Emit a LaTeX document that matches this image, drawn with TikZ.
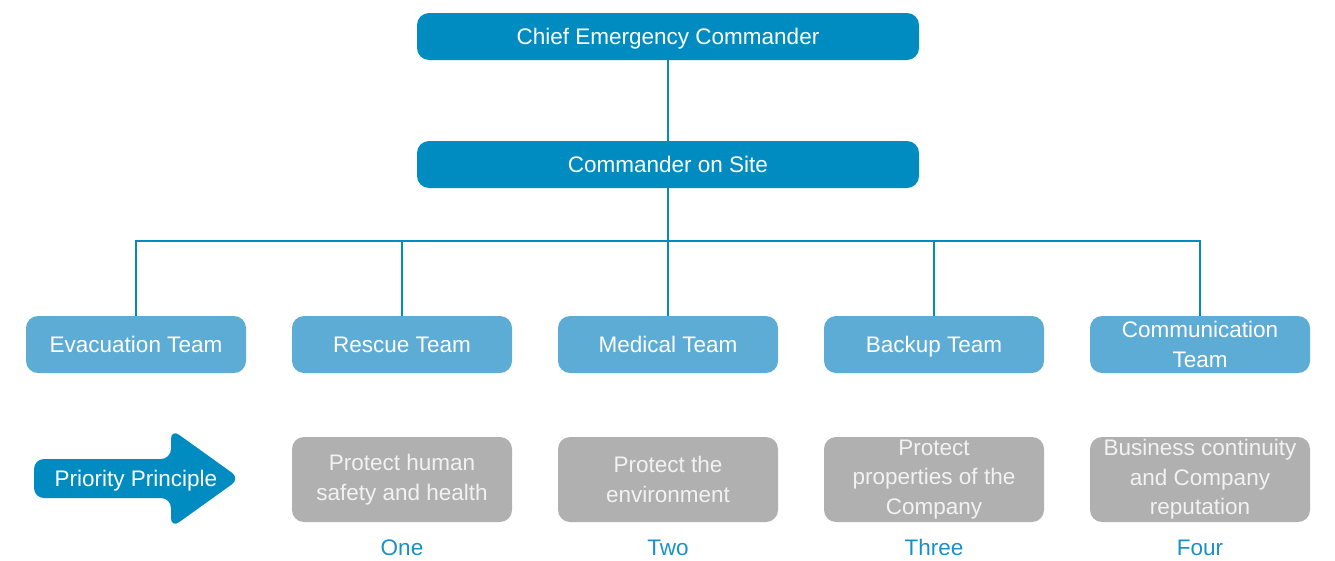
\documentclass[tikz,border=0pt]{standalone}
\usepackage{fontspec}
\setmainfont{Liberation Sans}
\definecolor{dblue}{HTML}{008CC1}
\definecolor{lblue}{HTML}{5CACD5}
\definecolor{gbox}{HTML}{B0B0B0}
\definecolor{gtext}{HTML}{F2F2F2}
\definecolor{numc}{HTML}{1A90C8}
\begin{document}
\begin{tikzpicture}[x=1pt,y=-1pt,
  bigfont/.style={font=\fontsize{22.5}{29.5}\selectfont},
  topbox/.style={bigfont, fill=dblue, rounded corners=12pt, minimum width=502pt, minimum height=47pt, text=white, inner sep=0pt, text height=16pt, text depth=0pt},
  teambox/.style={bigfont, fill=lblue, rounded corners=12pt, minimum width=220pt, minimum height=57pt, text=white, align=center, inner sep=0pt},
  prbox/.style={bigfont, fill=gbox, rounded corners=12pt, minimum width=220pt, minimum height=85pt, text=gtext, align=center, inner sep=0pt},
  numlbl/.style={bigfont, text=numc, inner sep=0pt, text height=16pt, text depth=0pt},
  conn/.style={draw=dblue, line width=2pt}
]
\useasboundingbox (0,0) rectangle (1335,560);
\node[topbox] (chief) at (668,36.5) {Chief Emergency Commander};
\node[topbox] (site) at (668,164.5) {Commander on Site};
\coordinate (bus) at (668,241);
\node[teambox, text height=16pt, text depth=0pt] (t1) at (136,344.5) {Evacuation Team};
\node[teambox, text height=16pt, text depth=0pt] (t2) at (402,344.5) {Rescue Team};
\node[teambox, text height=16pt, text depth=0pt] (t3) at (668,344.5) {Medical Team};
\node[teambox, text height=16pt, text depth=0pt] (t4) at (934,344.5) {Backup Team};
\node[teambox] (t5) at (1200,344.5) {Communication\\Team};
\draw[conn] (chief.south) -- (site.north);
\draw[conn] (site.south) -- (bus);
\draw[conn] (t1.north) |- (bus) -| (t5.north);
\draw[conn] (t2.north) -- (t2.north |- bus);
\draw[conn] (t3.north) -- (bus);
\draw[conn] (t4.north) -- (t4.north |- bus);
\node[prbox] (p1) at (402,479.5) {Protect human\\safety and health};
\node[prbox] (p2) at (668,479.5) {Protect the\\environment};
\node[prbox] (p3) at (934,479.5) {Protect\\properties of the\\Company};
\node[prbox] (p4) at (1200,479.5) {Business continuity\\and Company\\reputation};
\node[numlbl] (n1) at (402,547) {One};
\node[numlbl] (n2) at (668,547) {Two};
\node[numlbl] (n3) at (934,547) {Three};
\node[numlbl] (n4) at (1200,547) {Four};
\fill[dblue, rounded corners=10pt] (34,459) -- (171,459) -- (171,429) -- (240,478.5) -- (171,528) -- (171,498) -- (34,498) -- cycle;
\node[bigfont, text=white, inner sep=0pt, text height=16pt, text depth=0pt] (pp) at (136,478.5) {Priority Principle};
\end{tikzpicture}
\end{document}
